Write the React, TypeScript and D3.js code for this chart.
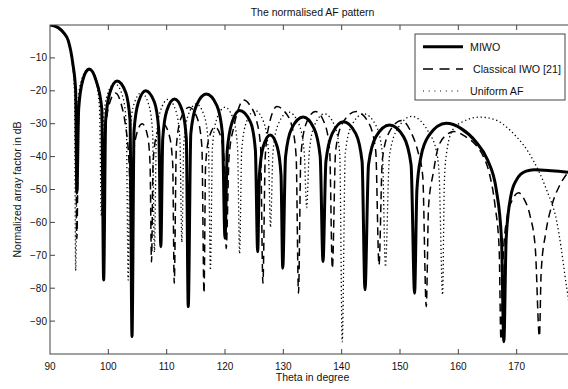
import React from "react";
import * as d3 from "d3";

type Pt = [number, number];

// [theta in degree, normalized AF in dB]
const MIWO: Pt[] = [
  [90, 0], [91.4, -0.8], [92.4, -2.5], [93.1, -4.6], [93.9, -11.6], [94.4, -20], [94.6, -51],
  [94.92, -25.4], [95.6, -16.9], [96.7, -13.4], [97.9, -16.9], [98.88, -25.4], [99.2, -77.5],
  [99.54, -29], [100.27, -20.5], [101.5, -17], [102.99, -20.5], [103.72, -29], [104.06, -94.7],
  [104.41, -32], [105.15, -23.5], [106.4, -20], [107.91, -23.5], [108.65, -32], [109.0, -67.4],
  [109.33, -34.5], [110.03, -26], [111.35, -22.5], [112.67, -26], [113.37, -34.5], [113.7, -85.6],
  [114.14, -33], [115.09, -24.5], [116.8, -21], [118.61, -24.5], [119.56, -33], [120.0, -64.8],
  [120.39, -38], [121.23, -29.5], [122.5, -26], [124.37, -29.5], [125.21, -38], [125.6, -68.9],
  [125.9, -45.5], [126.55, -37], [127.75, -33.4], [128.95, -37], [129.6, -45.5], [129.9, -73.9],
  [130.38, -40], [131.42, -31.5], [133.4, -28], [135.28, -31.5], [136.32, -40], [136.8, -71.9],
  [137.3, -41.5], [138.38, -33], [140.3, -29.4], [142.42, -33], [143.5, -41.5], [144.0, -80.5],
  [144.6, -42.5], [145.87, -34], [148.2, -30.4], [150.63, -34], [151.9, -42.5], [152.5, -81.5],
  [152.9, -50], [153.6, -40], [155, -33.5], [157.9, -29.9], [160.5, -31.5], [163, -35.5],
  [165, -41], [166.5, -50], [167.4, -65], [167.8, -96.3],
  [168.2, -65], [169, -52], [170, -47], [171.5, -44.5], [173, -44], [176, -44.3], [180, -45],
];

const CLASSICAL: Pt[] = [
  [90, 0], [91.4, -0.8], [92.4, -2.6], [93.1, -4.8], [93.9, -12], [94.4, -21], [94.6, -65],
  [94.92, -25.6], [95.6, -17.1], [96.8, -13.6], [98.0, -17.1], [98.78, -25.6], [99.1, -55],
  [99.5, -33], [100.1, -24.5], [101.2, -20.7], [102.2, -24], [102.9, -30], [103.5, -40], [103.9, -55],
  [104.2, -42], [104.8, -33.5], [105.8, -30], [106.7, -33.5], [107.15, -42], [107.4, -72],
  [107.67, -42], [108.26, -33.5], [109.35, -30], [110.44, -33.5], [111.03, -42], [111.3, -78.5],
  [111.66, -37], [112.42, -28.5], [113.85, -25], [115.28, -28.5], [116.04, -37], [116.4, -81.5],
  [116.67, -43], [117.24, -34.5], [118.3, -31], [119.36, -34.5], [119.93, -43], [120.2, -68],
  [120.7, -40], [121.5, -31], [122.3, -25.5], [123.2, -22.8], [124.3, -24.5], [125.4, -29], [126.1, -37], [126.5, -78.5],
  [126.9, -40], [127.6, -30], [128.9, -24.8], [130.3, -26.5], [131.5, -31], [132.2, -40], [132.6, -81.5],
  [133.0, -40], [133.9, -30], [135.5, -26.3], [137.1, -30], [137.95, -38.5], [138.4, -74],
  [138.96, -38.3], [140.16, -29.8], [142.5, -26.3], [144.64, -29.8], [145.84, -38.3], [146.4, -73],
  [146.97, -41], [148.18, -32.5], [150.3, -29], [152.0, -33], [153.0, -38], [153.9, -46], [154.5, -85.6],
  [154.9, -55], [155.7, -45], [156.5, -37.5], [157.9, -33.5], [159.3, -32.4], [161.3, -34], [163, -36.5],
  [164.3, -40], [165.3, -45], [166.3, -55], [167.0, -68], [167.3, -95.7],
  [167.7, -70], [168.4, -58], [169.3, -53], [170.3, -51], [171.3, -53], [172.3, -58], [173.2, -68], [173.9, -94.7],
  [174.2, -75], [175, -63], [176, -55], [177.3, -49], [178.5, -45.5], [180, -43],
];

const UNIFORM: Pt[] = [
  [90, 0], [91.4, -0.9], [92.4, -2.7], [93.1, -5], [93.8, -11.5], [94.2, -20], [94.4, -74.7],
  [94.71, -25.4], [95.37, -16.9], [96.6, -13.4], [97.83, -16.9], [98.49, -25.4], [98.8, -58],
  [99.12, -29.8], [99.81, -21.3], [101.1, -17.8], [102.39, -21.3], [103.08, -29.8], [103.4, -77.5],
  [103.72, -32.6], [104.39, -24.1], [105.65, -20.6], [106.91, -24.1], [107.59, -32.6], [107.9, -69],
  [108.23, -34.6], [108.93, -26.1], [110.25, -22.6], [111.57, -26.1], [112.27, -34.6], [112.6, -66],
  [112.94, -36], [113.68, -27.5], [115.05, -24], [116.42, -27.5], [117.16, -36], [117.5, -74.5],
  [117.85, -37], [118.6, -28.5], [120, -25], [121.4, -28.5], [122.15, -37], [122.5, -69.5],
  [122.87, -38], [123.67, -29.5], [125.15, -26], [126.63, -29.5], [127.43, -38], [127.8, -61.5],
  [128.23, -38.5], [129.16, -30], [130.9, -26.5], [132.64, -30], [133.57, -38.5], [134.0, -55.5],
  [134.43, -39], [135.34, -30.5], [137.05, -27], [138.76, -30.5], [139.67, -39], [140.1, -96.3],
  [140.62, -39], [141.73, -30.5], [143.8, -27], [145.87, -30.5], [146.98, -39], [147.5, -73.5],
  [148.19, -39.8], [149.66, -31.3], [152.0, -27.8], [155.0, -32.9], [156.2, -38], [156.7, -45], [157.3, -82],
  [157.6, -48], [157.9, -40], [159, -32], [160.75, -29.4], [163.7, -28], [166, -28.6], [169.4, -32.9],
  [172.8, -41], [175.1, -50], [176.9, -60], [178.3, -76.5], [179.2, -90], [180, -120],
];

const X_TICKS = [90, 100, 110, 120, 130, 140, 150, 160, 170];
const X_TICK_MARKS = [100, 110, 120, 130, 140, 150, 160, 170];
const Y_TICKS = [-90, -80, -70, -60, -50, -40, -30, -20, -10];

const LEGEND = ["MIWO", "Classical IWO [21]", "Uniform AF"];
const TITLE = "The normalised AF pattern";
const X_LABEL = "Theta in degree";
const Y_LABEL = "Normalized array factor  in dB";

const W = 568;
const H = 389;
const L = 50, R = 575, T = 25, B = 354;

export default function App() {
  const x = d3.scaleLinear().domain([90, 180]).range([L, R]);
  const y = d3.scaleLinear().domain([-100, 0]).range([B, T]);
  const line = d3
    .line<Pt>()
    .x((d) => x(d[0]))
    .y((d) => y(d[1]))
    .curve(d3.curveMonotoneX);

  const font = "'Liberation Sans', Arial, sans-serif";
  const axisColor = "#444";

  return (
    <svg
      width={W}
      height={H}
      viewBox={`0 0 ${W} ${H}`}
      style={{ position: "absolute", left: 0, top: 0, background: "#fff" }}
      fontFamily={font}
    >
      <rect x={0} y={0} width={W} height={H} fill="#fff" />
      <defs>
        <clipPath id="plotclip">
          <rect x={L} y={T} width={R - L} height={B - T} />
        </clipPath>
      </defs>

      <text x={(L + R) / 2} y={16} textAnchor="middle" fontSize={10.5} fill="#111">
        {TITLE}
      </text>

      <g clipPath="url(#plotclip)" fill="none" stroke="#000">
        <path d={line(UNIFORM) || ""} strokeWidth={1.3} strokeDasharray="1.3,2.7" />
        <path d={line(CLASSICAL) || ""} strokeWidth={1.5} strokeDasharray="8,5" />
        <path d={line(MIWO) || ""} strokeWidth={3} strokeLinejoin="round" />
      </g>

      {/* axes box */}
      <rect x={L} y={T} width={R - L} height={B - T} fill="none" stroke={axisColor} strokeWidth={1} />

      {/* x ticks */}
      {X_TICK_MARKS.map((t) => (
        <g key={"xt" + t} stroke={axisColor} strokeWidth={1}>
          <line x1={x(t)} x2={x(t)} y1={B} y2={B - 5} />
          <line x1={x(t)} x2={x(t)} y1={T} y2={T + 5} />
        </g>
      ))}
      {X_TICKS.map((t) => (
        <text key={"xl" + t} x={x(t)} y={370} textAnchor="middle" fontSize={10} fill="#111">
          {t}
        </text>
      ))}

      {/* y ticks */}
      {Y_TICKS.map((t) => (
        <g key={"yt" + t} stroke={axisColor} strokeWidth={1}>
          <line x1={L} x2={L + 5} y1={y(t)} y2={y(t)} />
          <line x1={R} x2={R - 5} y1={y(t)} y2={y(t)} />
        </g>
      ))}
      {Y_TICKS.map((t) => (
        <text
          key={"yl" + t}
          x={47}
          y={y(t)}
          dy="0.35em"
          textAnchor="end"
          fontSize={10}
          fill="#111"
        >
          {"\u2212" + Math.abs(t)}
        </text>
      ))}

      <text x={(L + R) / 2} y={381} textAnchor="middle" fontSize={10.5} fill="#111">
        {X_LABEL}
      </text>
      <text
        transform={`translate(21,${(T + B) / 2}) rotate(-90)`}
        textAnchor="middle"
        fontSize={10.5}
        fill="#111"
      >
        {Y_LABEL}
      </text>

      {/* legend */}
      <rect x={415} y={34} width={150} height={66} fill="#fff" stroke={axisColor} strokeWidth={1} />
      <line x1={423} x2={463} y1={46.7} y2={46.7} stroke="#000" strokeWidth={3} />
      <line x1={423} x2={463} y1={69} y2={69} stroke="#000" strokeWidth={1.5} strokeDasharray="10,6.5" />
      <line x1={423} x2={463} y1={91} y2={91} stroke="#000" strokeWidth={1} strokeDasharray="1,4.7" />
      <text x={470} y={50.5} fontSize={10.7} fill="#111">{LEGEND[0]}</text>
      <text x={473} y={72.8} fontSize={10.7} fill="#111">{LEGEND[1]}</text>
      <text x={470} y={94.8} fontSize={10.7} fill="#111">{LEGEND[2]}</text>
    </svg>
  );
}
